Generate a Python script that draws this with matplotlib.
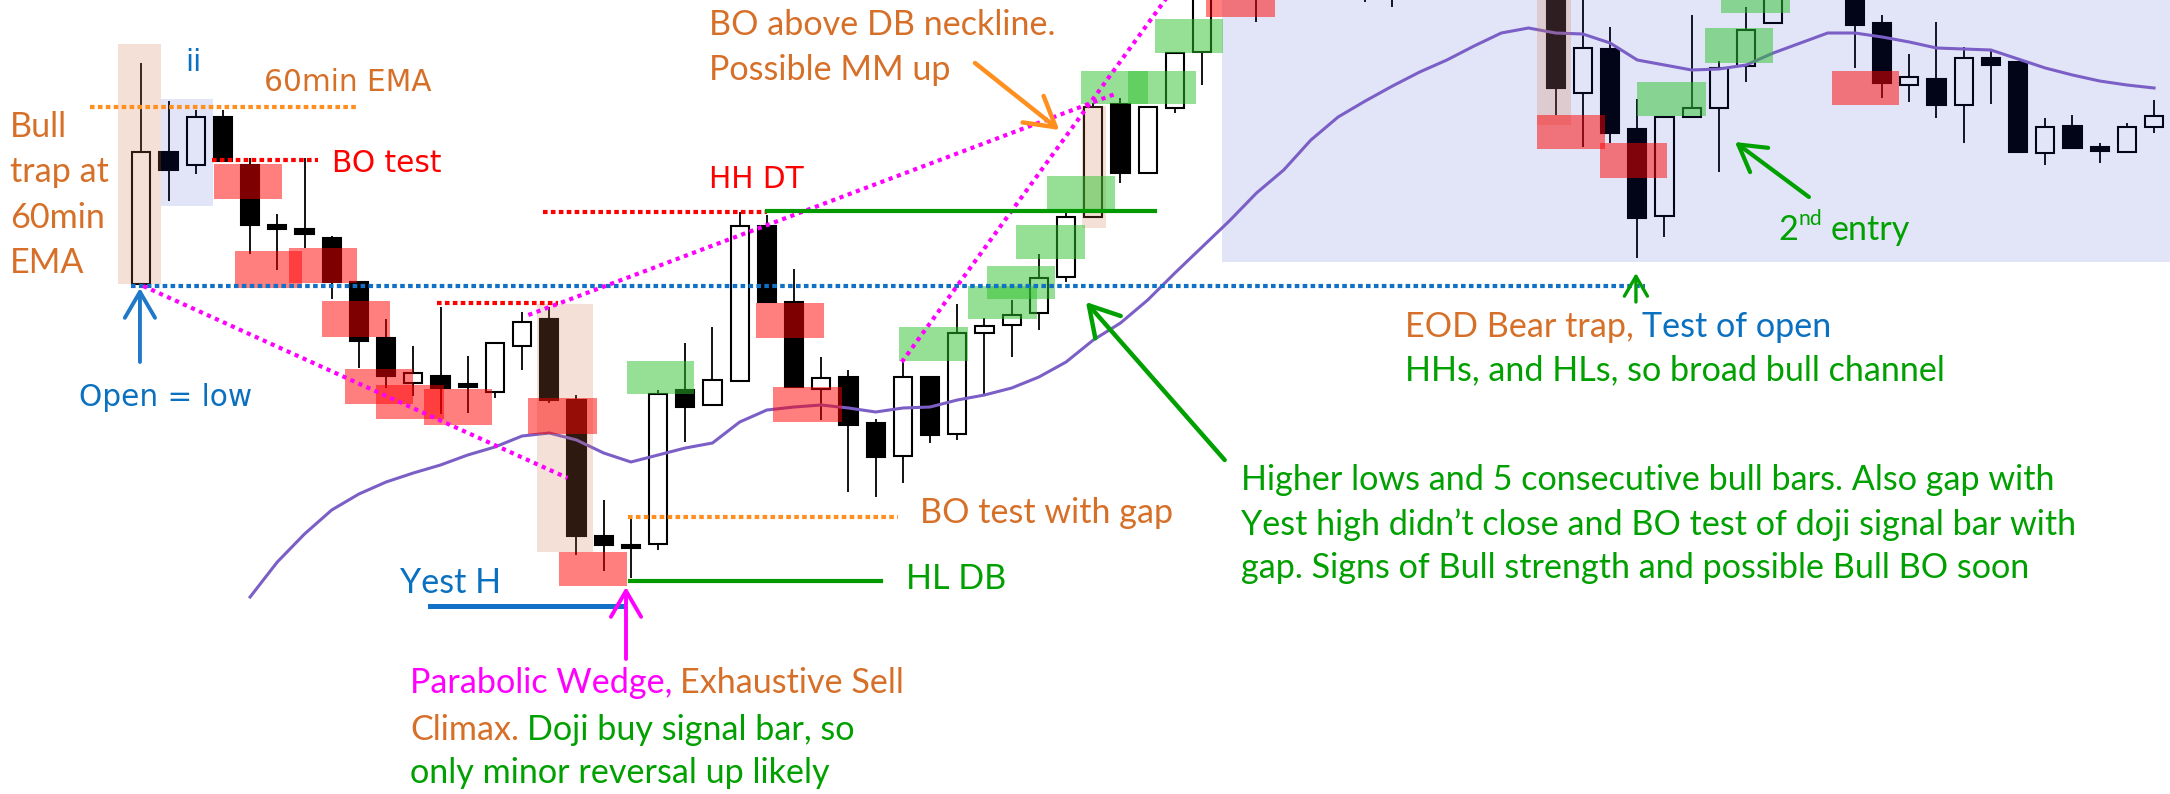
import matplotlib
matplotlib.use("Agg")
import matplotlib.pyplot as plt
from matplotlib.patches import Rectangle

# bars (index = bar number, prices in chart points)
bar_idx = [0, 1, 2, 3, 4, 5, 6, 7, 8, 9, 10, 11, 12, 13, 14, 15, 16, 17, 18, 19,
           20, 21, 22, 23, 24, 25, 26, 27, 28, 29, 30, 31, 32, 33, 34, 35, 36, 37, 38, 39,
           41, 45, 46, 52, 53, 54, 55, 56, 57, 58, 59, 60,
           63, 64, 65, 66, 67, 68, 69, 70, 71, 72, 73, 74]
opens = [510, 642, 629, 677, 629, 569, 565, 556, 512, 456, 411, 418, 410, 402, 448, 475, 394, 258, 249, 250,
         404, 389, 413, 568, 492, 405, 417, 371, 338, 417, 360, 461, 469, 481, 517, 577, 690, 621, 686, 742,
         820, 830, 820, 820, 701, 745, 665, 578, 677, 686, 728, 771,
         804, 771, 709, 715, 689, 736, 732, 641, 668, 647, 642, 667]
highs = [731, 693, 684, 684, 636, 580, 636, 558, 512, 475, 448, 487, 438, 451, 482, 487, 399, 294, 276, 404,
         451, 467, 582, 579, 525, 437, 424, 375, 432, 417, 490, 476, 494, 540, 581, 691, 696, 687, 742, 819,
         830, 840, 835, 830, 796, 767, 695, 677, 779, 733, 787, 809,
         809, 779, 740, 772, 747, 744, 732, 676, 679, 651, 671, 694]
lows = [510, 593, 620, 633, 540, 524, 546, 495, 426, 406, 398, 380, 381, 396, 424, 391, 239, 223, 216, 244,
        352, 389, 413, 492, 406, 374, 302, 297, 311, 351, 354, 399, 437, 464, 512, 577, 611, 621, 681, 709,
        772, 792, 787, 679, 647, 651, 536, 557, 677, 622, 712, 770,
        726, 696, 692, 676, 651, 690, 642, 629, 646, 631, 642, 661]
closes = [642, 624, 677, 633, 569, 565, 560, 512, 453, 418, 421, 406, 407, 451, 472, 394, 258, 249, 246, 400,
          387, 414, 568, 492, 407, 416, 369, 337, 417, 359, 461, 468, 479, 516, 577, 687, 621, 687, 741, 809,
          800, 810, 805, 706, 746, 661, 576, 677, 686, 726, 764, 804,
          769, 711, 717, 689, 736, 729, 642, 667, 646, 643, 667, 678]

# 20 bar EMA
ema_idx = list(range(4, 75))
ema = [197, 232, 260, 284, 300, 312, 321, 329, 339, 347, 358, 361, 354, 341, 332, 339, 346, 351, 372, 384,
       387, 389, 386, 382, 386, 387, 394, 399, 406, 417, 432, 454, 471, 494, 521, 547, 573, 601, 624, 654,
       677, 693, 708, 722, 734, 748, 761, 766, 761, 760, 751, 734, 729, 724, 725, 729, 741, 751, 761, 761,
       757, 752, 746, 745, 744, 735, 726, 719, 713, 709, 706]

# shaded zones: (first bar, last bar, low, high)
red_zones = [(2.67, 5.16, 595, 630), (3.44, 5.92, 506, 543), (5.43, 7.92, 511, 546),
             (6.65, 9.14, 457, 493), (7.49, 10.0, 390, 425), (8.63, 11.13, 375, 409),
             (10.39, 12.88, 369, 405), (14.23, 16.74, 360, 396), (15.37, 17.85, 208, 242),
             (22.6, 25.1, 456, 491), (23.24, 25.75, 372, 407), (39.14, 41.68, 777, 810),
             (51.3, 53.81, 645, 679), (53.63, 56.1, 616, 651), (62.15, 64.63, 689, 723)]
green_zones = [(17.85, 20.32, 400, 433), (27.87, 30.38, 433, 467), (30.38, 32.92, 475, 508),
               (31.08, 33.59, 495, 528), (32.16, 34.69, 535, 569), (33.31, 35.8, 585, 618),
               (34.55, 37.02, 690, 723), (36.29, 38.78, 690, 723), (37.27, 39.78, 741, 775),
               (55.0, 57.53, 678, 712), (57.49, 60.0, 731, 766), (58.07, 60.61, 781, 814)]
peach_zones = [(-0.85, 0.72, 510, 750), (14.54, 16.6, 242, 490), (34.57, 35.46, 566, 688),
               (51.32, 52.55, 669, 810)]
blue_zones = [(0.72, 2.65, 588, 695), (39.72, 74.7, 532, 810)]

W, H = 2170, 794
CAL = "Lato"
VER = "DejaVu Sans"
CAL_SIZE = 24.6
VER_SIZE = 21.3
ORANGE_TXT = "#D67029"
BLUE_TXT = "#0A70C0"
GREEN_TXT = "#00A000"

fig = plt.figure(figsize=(W / 100, H / 100), dpi=100)
ax = fig.add_axes([0, 0, 1, 1])
ax.set_xlim(-5.195, 74.585)
ax.set_ylim(0, 794)
ax.axis("off")

# candles
for i, o, h, l, c in zip(bar_idx, opens, highs, lows, closes):
    ax.vlines(i, l, h, color="black", lw=1.3, zorder=1)
    fc = "white" if c >= o else "black"
    ax.bar(i, abs(c - o), bottom=min(o, c), width=0.67, color=fc,
           edgecolor="black", linewidth=1.5, zorder=2)

ax.plot(ema_idx, ema, color="#7B5FC7", lw=2.2, zorder=2.9)

for zones, col, a, z in [(blue_zones, "#1030C0", 0.12, 2.8), (peach_zones, "#D17345", 0.22, 3),
                         (red_zones, "#FF0000", 0.5, 3.1), (green_zones, "#2EC22E", 0.5, 3.1)]:
    for x0, x1, lo, hi in zones:
        ax.add_patch(Rectangle((x0, lo), x1 - x0, hi - lo, facecolor=col, alpha=a,
                               edgecolor="none", zorder=z))

dots = dict(lw=3, linestyle=(0, (1.1, 0.8)), dash_capstyle="butt", zorder=4)
ax.plot([-1.89, 7.92], [687, 687], color="#FF8F1F", **dots)       # 60min EMA
ax.plot([2.61, 6.48], [634, 634], color="#FF0000", **dots)        # BO test
ax.plot([-0.39, 55.3], [508, 508], color="#1071C6", **dots)       # open
ax.plot([10.86, 15.32], [491, 491], color="#FF0000", **dots)
ax.plot([14.78, 22.99], [582, 582], color="#FF0000", **dots)      # HH DT
ax.plot([17.9, 27.82], [277, 277], color="#FF8F1F", **dots)       # BO test with gap

mag = dict(color="#FF00FF", lw=3, linestyle=(0, (1, 1.1)), dash_capstyle="butt", zorder=4)
ax.plot([0.07, 15.67], [508, 316], **mag)
ax.plot([14.23, 35.8], [479, 700], **mag)
ax.plot([27.96, 38.6], [432, 830], **mag)

ax.plot([22.99, 37.27], [583, 583], color="#009900", lw=3, zorder=4)   # neckline
ax.plot([17.98, 27.2], [213.5, 213.5], color="#009900", lw=3, zorder=4)  # HL DB
ax.plot([10.63, 17.76], [188.5, 188.5], color="#1071C6", lw=3.6, zorder=4)  # yest high


def arrow(tail, tip, color, lw=2.8, scale=34):
    ax.annotate("", xy=tip, xytext=tail,
                arrowprops=dict(arrowstyle="->,head_length=0.55,head_width=0.32", color=color,
                                lw=lw, shrinkA=0, shrinkB=0, mutation_scale=scale), zorder=5)


arrow((-0.05, 432), (-0.05, 506), "#1F78C8")
arrow((17.82, 135), (17.82, 207), "#FF00FF")
arrow((30.65, 731), (33.75, 664), "#FF9020", 3.2, 38)
arrow((39.83, 334), (34.73, 492), "#00A000", 3.2, 38)
arrow((61.31, 597), (58.59, 652), "#00A000", 3)
arrow((54.95, 492), (54.95, 521), "#00A000", 2.4, 26)

renderer = fig.canvas.get_renderer()


def text_line(x, y, parts, size=CAL_SIZE, family=CAL):
    gap = 0.23 * size * 100 / 72
    for s, col in parts:
        t = fig.text(x / W, 1 - y / H, s, color=col, fontsize=size, family=family,
                     va="baseline", ha="left")
        x = t.get_window_extent(renderer).x1 + gap


for k, s in enumerate(["Bull", "trap at", "60min", "EMA"]):
    text_line(10, 137 + k * 45.3, [(s, ORANGE_TXT)])
text_line(185, 71, [("ii", BLUE_TXT)], VER_SIZE, VER)
text_line(264, 90.7, [("60min EMA", ORANGE_TXT)], VER_SIZE, VER)
text_line(332, 171.7, [("BO test", "#FF0000")], VER_SIZE, VER)
text_line(79, 406, [("Open = low", BLUE_TXT)], VER_SIZE, VER)
text_line(709, 188.3, [("HH DT", "#FF0000")], VER_SIZE, VER)
text_line(400, 592.7, [("Yest H", BLUE_TXT)])
text_line(920, 522.7, [("BO test with gap", ORANGE_TXT)])
text_line(906, 589, [("HL DB", GREEN_TXT)])
text_line(709, 35, [("BO above DB neckline.", ORANGE_TXT)])
text_line(709, 80, [("Possible MM up", ORANGE_TXT)])
text_line(1405, 336.7, [("EOD Bear trap,", ORANGE_TXT), ("Test of open", BLUE_TXT)])
text_line(1405, 380, [("HHs, and HLs, so broad bull channel", GREEN_TXT)])
text_line(1241, 490, [("Higher lows and 5 consecutive bull bars. Also gap with", GREEN_TXT)])
text_line(1241, 535, [("Yest high didn\u2019t close and BO test of doji signal bar with", GREEN_TXT)])
text_line(1241, 578, [("gap. Signs of Bull strength and possible Bull BO soon", GREEN_TXT)])
text_line(410, 693.3, [("Parabolic Wedge,", "#FF00FF"), ("Exhaustive Sell", ORANGE_TXT)])
text_line(410, 740, [("Climax.", ORANGE_TXT), ("Doji buy signal bar, so", GREEN_TXT)])
text_line(410, 783.3, [("only minor reversal up likely", GREEN_TXT)])

# "2nd entry" with superscript
t2 = fig.text(1778 / W, 1 - 240 / H, "2", color=GREEN_TXT, fontsize=CAL_SIZE, family=CAL, va="baseline")
x2 = t2.get_window_extent(renderer).x1 + 1
tnd = fig.text(x2 / W, 1 - 225 / H, "nd", color=GREEN_TXT, fontsize=CAL_SIZE * 0.62, family=CAL,
               va="baseline")
x3 = tnd.get_window_extent(renderer).x1 + 0.23 * CAL_SIZE * 100 / 72
fig.text(x3 / W, 1 - 240 / H, "entry", color=GREEN_TXT, fontsize=CAL_SIZE, family=CAL, va="baseline")

fig.savefig("out.png", dpi=100)
